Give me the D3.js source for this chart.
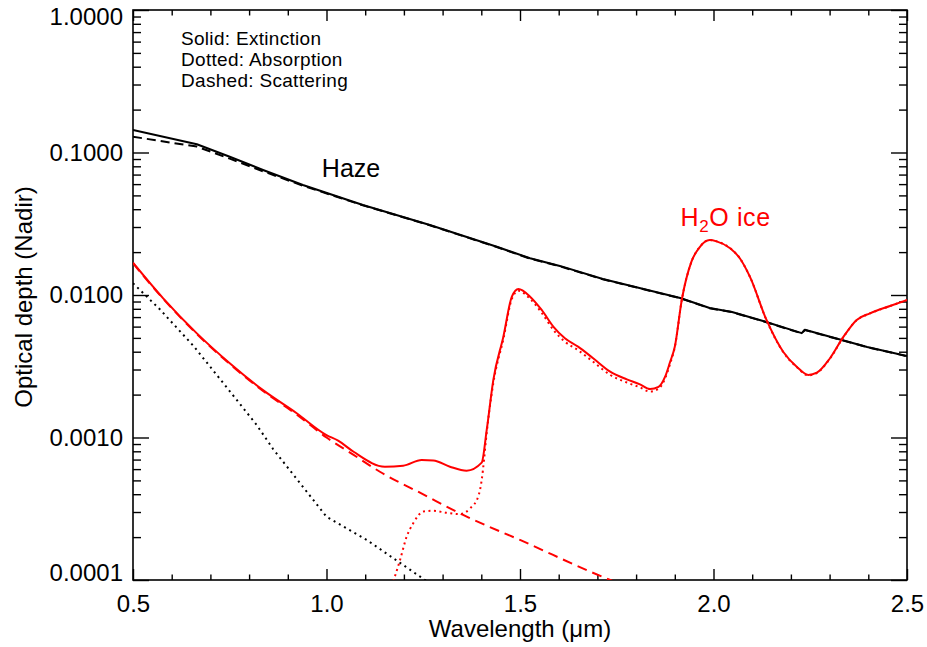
<!DOCTYPE html>
<html>
<head>
<meta charset="utf-8">
<title>Optical depth (Nadir)</title>
<script src="https://cdn.jsdelivr.net/npm/d3@7"></script>
<style>
  html, body { margin: 0; padding: 0; background: #fff; }
  svg { display: block; font-family: "Liberation Sans", Arial, Helvetica, sans-serif; }
</style>
</head>
<body>
<svg id="chart" width="927" height="647"></svg>
<script>
// haze (black)
var hazeWave = [0.5, 0.665, 0.75, 0.836, 0.939, 1.094, 1.267, 1.44, 1.526, 1.603, 1.714,
  1.914, 1.99, 2.048, 2.128, 2.228, 2.236, 2.397, 2.5];
var hazeExt = [0.1438, 0.1142, 0.0934, 0.0754, 0.0591, 0.0428, 0.0310, 0.0218, 0.0181, 0.0160, 0.01295,
  0.00953, 0.0081, 0.0076, 0.00657, 0.0054, 0.0057, 0.00432, 0.00373];
var hazeScat = [0.129, 0.110, 0.0905, 0.0738, 0.0585, 0.0426, 0.0309, 0.0217, 0.0180, 0.0159, 0.0129,
  0.0095, 0.00808, 0.00758, 0.00655, 0.00538, 0.00568, 0.00431, 0.00372];

var hazeAbsWave = [0.5, 0.57, 0.656, 0.742, 0.82, 0.862, 1.0, 1.104, 1.242, 1.3];
var hazeAbs = [0.0121, 0.0079, 0.0044, 0.00225, 0.00122, 0.00083, 0.000278, 0.000191, 0.0001055, 0.000082];

// H2O ice (red)
var iceWave = [0.5, 0.578, 0.665, 0.75, 0.836, 0.923, 1.0, 1.03, 1.07, 1.151, 1.198, 1.246, 1.276,
  1.319, 1.362, 1.401, 1.414, 1.431, 1.457, 1.479, 1.496, 1.526, 1.556, 1.586, 1.616, 1.65,
  1.689, 1.733, 1.776, 1.81, 1.836, 1.858, 1.875, 1.888, 1.90, 1.918, 1.943, 1.965, 1.99,
  2.008, 2.043, 2.068, 2.094, 2.137, 2.18, 2.215, 2.245, 2.267, 2.301, 2.336, 2.37, 2.404,
  2.456, 2.5];
var iceExt = [0.01686, 0.00948, 0.00538, 0.00332, 0.00215, 0.00148, 0.00104, 0.00095, 0.000794,
  0.000624, 0.000634, 0.000695, 0.00069, 0.000624, 0.000585, 0.000666, 0.00113, 0.00253, 0.0051,
  0.00973, 0.0110, 0.00973, 0.00785, 0.0060, 0.00497, 0.00434, 0.0036, 0.0029, 0.00256, 0.00236,
  0.00219, 0.00227, 0.00267, 0.0034, 0.00433, 0.00923, 0.01713, 0.0218, 0.0243, 0.0238, 0.0213,
  0.0181, 0.01345, 0.00668, 0.0040, 0.00314, 0.00275, 0.00285, 0.0036, 0.0051, 0.00668, 0.00744,
  0.00838, 0.00923];

var iceAbsWave = [1.168, 1.19, 1.207, 1.224, 1.25, 1.276, 1.31, 1.344, 1.371, 1.392, 1.401, 1.407,
  1.412, 1.431, 1.457, 1.479, 1.496, 1.526, 1.556, 1.586, 1.616, 1.65, 1.689, 1.733, 1.776, 1.81,
  1.836, 1.858, 1.875, 1.888, 1.90, 1.918, 1.943, 1.965, 1.99, 2.008, 2.043, 2.068, 2.094, 2.137,
  2.18, 2.215, 2.245, 2.267, 2.301, 2.336, 2.37, 2.404, 2.456, 2.5];
var iceAbs = [0.00009, 0.000138, 0.000201, 0.00025, 0.000302, 0.000306, 0.000296, 0.00029, 0.000318,
  0.000385, 0.000503, 0.000695, 0.00096, 0.0024, 0.0049, 0.0094, 0.0107, 0.0094, 0.0075, 0.0057,
  0.0047, 0.0041, 0.0034, 0.00275, 0.00243, 0.00225, 0.0021, 0.0022, 0.0026, 0.0033, 0.0043,
  0.0092, 0.0171, 0.0218, 0.0243, 0.0238, 0.0213, 0.0181, 0.01343, 0.00666, 0.00398, 0.00312,
  0.00273, 0.00283, 0.00358, 0.00508, 0.00666, 0.00742, 0.00836, 0.00921];

var iceScatWave = [0.5, 0.578, 0.665, 0.75, 0.836, 0.923, 1.0, 1.07, 1.138, 1.25, 1.353, 1.5, 1.733, 1.8];
var iceScat = [0.0167, 0.0094, 0.00533, 0.00328, 0.00212, 0.00145, 0.00100, 0.000755, 0.000575,
  0.000399, 0.000286, 0.000191, 0.0001, 0.000085];

// axes
var xMajorTicks = [0.5, 1.0, 1.5, 2.0, 2.5];
var xMinorTicks = [0.6, 0.7, 0.8, 0.9, 1.1, 1.2, 1.3, 1.4, 1.6, 1.7, 1.8, 1.9, 2.1, 2.2, 2.3, 2.4];
var yMajorTicks = [0.0001, 0.001, 0.01, 0.1, 1];
var legendLines = ['Solid: Extinction', 'Dotted: Absorption', 'Dashed: Scattering'];

function drawChart () {
  'use strict';

  var margin = {top: 10, right: 20, bottom: 67, left: 133};
  var width = 927 - margin.left - margin.right;
  var height = 647 - margin.top - margin.bottom;

  var yMinorTicks = [];
  yMajorTicks.slice(0, -1).forEach(function (d) {
    for (var k = 2; k <= 9; k++) yMinorTicks.push(d * k);
  });

  var x = d3.scaleLinear().domain([0.5, 2.5]).range([0, width]);
  var y = d3.scaleLog().domain([0.0001, 1]).range([height, 0]);

  var svg = d3.select('#chart');
  var g = svg.append('g')
    .attr('transform', 'translate(' + margin.left + ',' + margin.top + ')');

  g.append('defs').append('clipPath')
    .attr('id', 'plot-clip')
    .append('rect')
    .attr('width', width)
    .attr('height', height);

  function addAxis (axis, cls, translate) {
    var a = g.append('g')
      .attr('class', cls)
      .attr('transform', translate || null)
      .call(axis);
    a.attr('font-family', null).attr('font-size', 24);
    a.select('.domain').remove();
    a.selectAll('line').attr('stroke', '#000').attr('stroke-width', 1.4);
    a.selectAll('text').attr('fill', '#000');
    return a;
  }

  var noLabel = function () { return ''; };

  addAxis(d3.axisBottom(x).tickValues(xMajorTicks).tickSize(-11).tickPadding(15)
    .tickFormat(d3.format('.1f')), 'x-axis', 'translate(0,' + height + ')');
  addAxis(d3.axisBottom(x).tickValues(xMinorTicks).tickSize(-5.5).tickFormat(noLabel),
    'x-minor', 'translate(0,' + height + ')');
  addAxis(d3.axisTop(x).tickValues(xMajorTicks).tickSize(-11).tickFormat(noLabel), 'x-top');
  addAxis(d3.axisTop(x).tickValues(xMinorTicks).tickSize(-5.5).tickFormat(noLabel), 'x-top-minor');

  var yAxis = addAxis(d3.axisLeft(y).tickValues(yMajorTicks).tickSize(-16).tickPadding(10)
    .tickFormat(d3.format('.4f')), 'y-axis');
  addAxis(d3.axisLeft(y).tickValues(yMinorTicks).tickSize(-8).tickFormat(noLabel), 'y-minor');
  addAxis(d3.axisRight(y).tickValues(yMajorTicks).tickSize(-16).tickFormat(noLabel),
    'y-right', 'translate(' + width + ',0)');
  addAxis(d3.axisRight(y).tickValues(yMinorTicks).tickSize(-8).tickFormat(noLabel),
    'y-right-minor', 'translate(' + width + ',0)');

  // end labels sit inside the frame
  yAxis.selectAll('.tick text')
    .attr('dy', function (d) {
      if (d === 1) return '0.62em';
      if (d === 0.0001) return '0.0em';
      return '0.32em';
    });

  g.append('rect')
    .attr('width', width)
    .attr('height', height)
    .attr('fill', 'none')
    .attr('stroke', '#000')
    .attr('stroke-width', 1.6);

  var plot = g.append('g').attr('clip-path', 'url(#plot-clip)');

  function series (waves, values, color, dash, curve) {
    var line = d3.line()
      .x(function (d, i) { return x(waves[i]); })
      .y(function (d) { return y(d); })
      .curve(curve || d3.curveLinear);
    plot.append('path')
      .datum(values)
      .attr('d', line)
      .attr('fill', 'none')
      .attr('stroke', color)
      .attr('stroke-width', 2)
      .attr('stroke-dasharray', dash || null)
      .attr('stroke-linejoin', 'round');
  }

  var smooth = d3.curveMonotoneX;

  series(hazeWave, hazeScat, '#000', '9 5');
  series(hazeAbsWave, hazeAbs, '#000', '2 4');
  series(hazeWave, hazeExt, '#000');

  series(iceScatWave, iceScat, '#ff0000', '10 6', smooth);
  series(iceAbsWave, iceAbs, '#ff0000', '2 3.5', smooth);
  series(iceWave, iceExt, '#ff0000', null, smooth);

  // annotations
  var legend = svg.append('g')
    .attr('font-size', 19)
    .attr('letter-spacing', 0.3);
  legend.selectAll('text')
    .data(legendLines)
    .enter()
    .append('text')
    .attr('x', 181)
    .attr('y', function (d, i) { return 45 + i * 21; })
    .text(function (d) { return d; });

  g.append('text')
    .attr('x', x(0.988))
    .attr('y', y(0.0673))
    .attr('font-size', 25)
    .text('Haze');

  var ice = g.append('text')
    .attr('x', x(1.915))
    .attr('y', y(0.0305))
    .attr('font-size', 25)
    .attr('letter-spacing', 0.6)
    .attr('fill', '#ff0000');
  ice.append('tspan').text('H');
  ice.append('tspan').attr('font-size', 17).attr('dy', 6).text('2');
  ice.append('tspan').attr('dy', -6).text('O ice');

  svg.append('text')
    .attr('x', margin.left + width / 2)
    .attr('y', 637)
    .attr('text-anchor', 'middle')
    .attr('font-size', 24)
    .text('Wavelength (\u03bcm)');

  svg.append('text')
    .attr('transform', 'translate(32,297) rotate(-90)')
    .attr('text-anchor', 'middle')
    .attr('font-size', 24)
    .text('Optical depth (Nadir)');
}

drawChart();
</script>
</body>
</html>
